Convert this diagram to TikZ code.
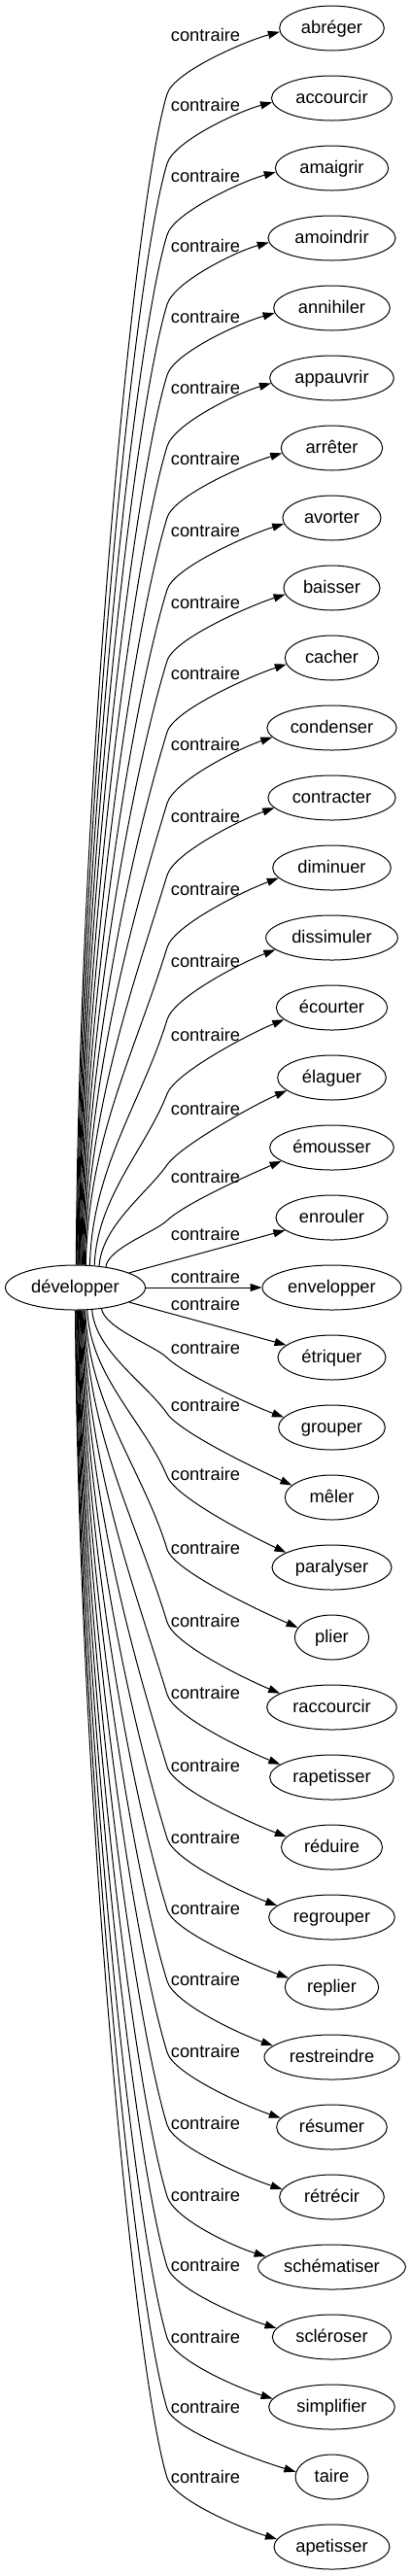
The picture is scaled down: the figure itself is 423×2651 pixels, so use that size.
\documentclass[tikz,border=0pt]{standalone}
\usepackage{fontspec}
\setmainfont{Liberation Sans}
\usetikzlibrary{shapes.geometric,arrows.meta,calc}
\begin{document}
\begin{tikzpicture}[x=1pt,y=-1pt,
  every node/.style={font=\fontsize{18.3}{20}\selectfont},
  word/.style={draw, ellipse, line width=1pt, inner sep=0pt, minimum height=46pt, text height=14pt, text depth=3pt},
  lab/.style={anchor=base, inner sep=0pt},
  edge/.style={line width=1pt, -{Triangle[length=12pt,width=8pt]}}]
\useasboundingbox (0,0) rectangle (423,2651);
\node[word, minimum width=144pt] (dev) at (77.5,1325) {développer};
\foreach \i/\txt/\w/\ly in {
0/abréger/108.7/36.7,
1/accourcir/125/108.3,
2/amaigrir/117.3/181.7,
3/amoindrir/132/253.3,
4/annihiler/120.7/326,
5/appauvrir/128.7/399.3,
6/arrêter/105.3/472.7,
7/avorter/102/546.7,
8/baisser/100/620,
9/cacher/97.3/693.3,
10/condenser/134.3/766.7,
11/contracter/132.3/840.7,
12/diminuer/122.7/915,
13/dissimuler/136.7/989.3,
14/écourter/115.3/1065.7,
15/élaguer/112.7/1141.7,
16/émousser/128.7/1211,
17/enrouler/116/1270,
18/envelopper/144/1314.3,
19/étriquer/112/1342.3,
20/grouper/110.7/1387.3,
21/mêler/97.3/1446.7,
22/paralyser/124/1517.3,
23/plier/77.3/1593.3,
24/raccourcir/134.7/1668.3,
25/rapetisser/128.7/1742.7,
26/réduire/105/1817.3,
27/regrouper/130.7/1891,
28/replier/97.3/1964.3,
29/restreindre/140/2037.7,
30/résumer/114.7/2111,
31/rétrécir/108.7/2185.7,
32/schématiser/152.7/2259.3,
33/scléroser/123.3/2331.7,
34/simplifier/130.7/2405,
35/taire/76/2477.7,
36/apetisser/120/2549}{
  \node[word, minimum width=\w pt-1pt] (n\i) at (341.5,29+72*\i) {\txt};
  \node[lab] (l\i) at (211.5,\ly+6) {contraire};
}
% upper edges
\foreach \i/\ly/\sx/\vo in {
0/36.7/78/60, 1/108.3/78.8/60, 2/181.7/79.6/60, 3/253.3/80.4/60,
4/326/81.2/60, 5/399.3/82/60, 6/472.7/82.8/60, 7/546.7/83.6/60,
8/620/84.4/60, 9/693.3/85.2/60, 10/766.7/86/60, 11/840.7/87/60,
12/915/88/60, 13/989.3/92/60, 14/1065.7/97/60, 15/1141.7/102/57,
16/1211/108/45}{
  \pgfmathsetmacro\qdx{\sx-77.5}
  \pgfmathsetmacro\qhy{23.5*sqrt(1-(\qdx/72.5)^2)}
  \pgfmathsetmacro\qth{atan2(\qhy,\qdx)}
  \pgfmathsetmacro\qsy{1325-\qhy}
  \pgfmathsetmacro\qvy{\ly+\vo}
  \pgfmathsetmacro\qspn{\qsy-\qvy}
  \pgfmathsetmacro\qal{35+38*min(1,\qspn/200)}
  \pgfmathsetmacro\qh{min(0.35*\qspn,120)}
  \pgfmathsetmacro\qty{29+72*\i}
  \pgfmathsetmacro\qrise{\ly+31-\qty}
  \pgfmathsetmacro\qang{180+max(2,0.5*(\qrise-30))}
  \pgfmathsetmacro\qdc{35*tan(12+0.35*(\qrise-30))}
  \draw[edge] (dev.\qth) .. controls (\sx+3,\qsy-0.4*\qspn) and ({172-\qh*cos(\qal)},{\qvy+\qh*sin(\qal)}) .. (172,\qvy)
     .. controls ({172+24*cos(\qal)},{\qvy-24*sin(\qal)}) and ($(n\i.\qang)+(-35,\qdc)$) .. (n\i.\qang);
}
% middle edges
\draw[edge] (dev) -- (n17);
\draw[edge] (dev) -- (n18);
\draw[edge] (dev) -- (n19);
% lower edges
\foreach \i/\ly/\sx/\vo in {
20/1387.3/105/10, 21/1446.7/95/8, 22/1517.3/90/2, 23/1593.3/88/1,
24/1668.3/87/1, 25/1742.7/86/1, 26/1817.3/85.2/1, 27/1891/84.4/1,
28/1964.3/83.6/1, 29/2037.7/82.8/1, 30/2111/82/1, 31/2185.7/81.2/1,
32/2259.3/80.4/1, 33/2331.7/79.6/1, 34/2405/78.8/1, 35/2477.7/78/1,
36/2549/77.5/1}{
  \pgfmathsetmacro\qdx{\sx-77.5}
  \pgfmathsetmacro\qhy{23.5*sqrt(1-(\qdx/72.5)^2)}
  \pgfmathsetmacro\qth{360-atan2(\qhy,\qdx)}
  \pgfmathsetmacro\qsy{1325+\qhy}
  \pgfmathsetmacro\qvy{\ly+\vo}
  \pgfmathsetmacro\qspn{\qvy-\qsy}
  \pgfmathsetmacro\qal{35+38*min(1,\qspn/200)}
  \pgfmathsetmacro\qh{min(0.35*\qspn,120)}
  \pgfmathsetmacro\qty{29+72*\i}
  \pgfmathsetmacro\qdrop{\qty-\ly-28}
  \pgfmathsetmacro\qang{180-max(2,0.4*(\qdrop-25))}
  \pgfmathsetmacro\qdc{35*tan(12+0.35*(\qdrop-30))}
  \draw[edge] (dev.\qth) .. controls (\sx+3,\qsy+0.4*\qspn) and ({172-\qh*cos(\qal)},{\qvy-\qh*sin(\qal)}) .. (172,\qvy)
     .. controls ({172+24*cos(\qal)},{\qvy+24*sin(\qal)}) and ($(n\i.\qang)+(-35,-\qdc)$) .. (n\i.\qang);
}
\end{tikzpicture}
\end{document}
